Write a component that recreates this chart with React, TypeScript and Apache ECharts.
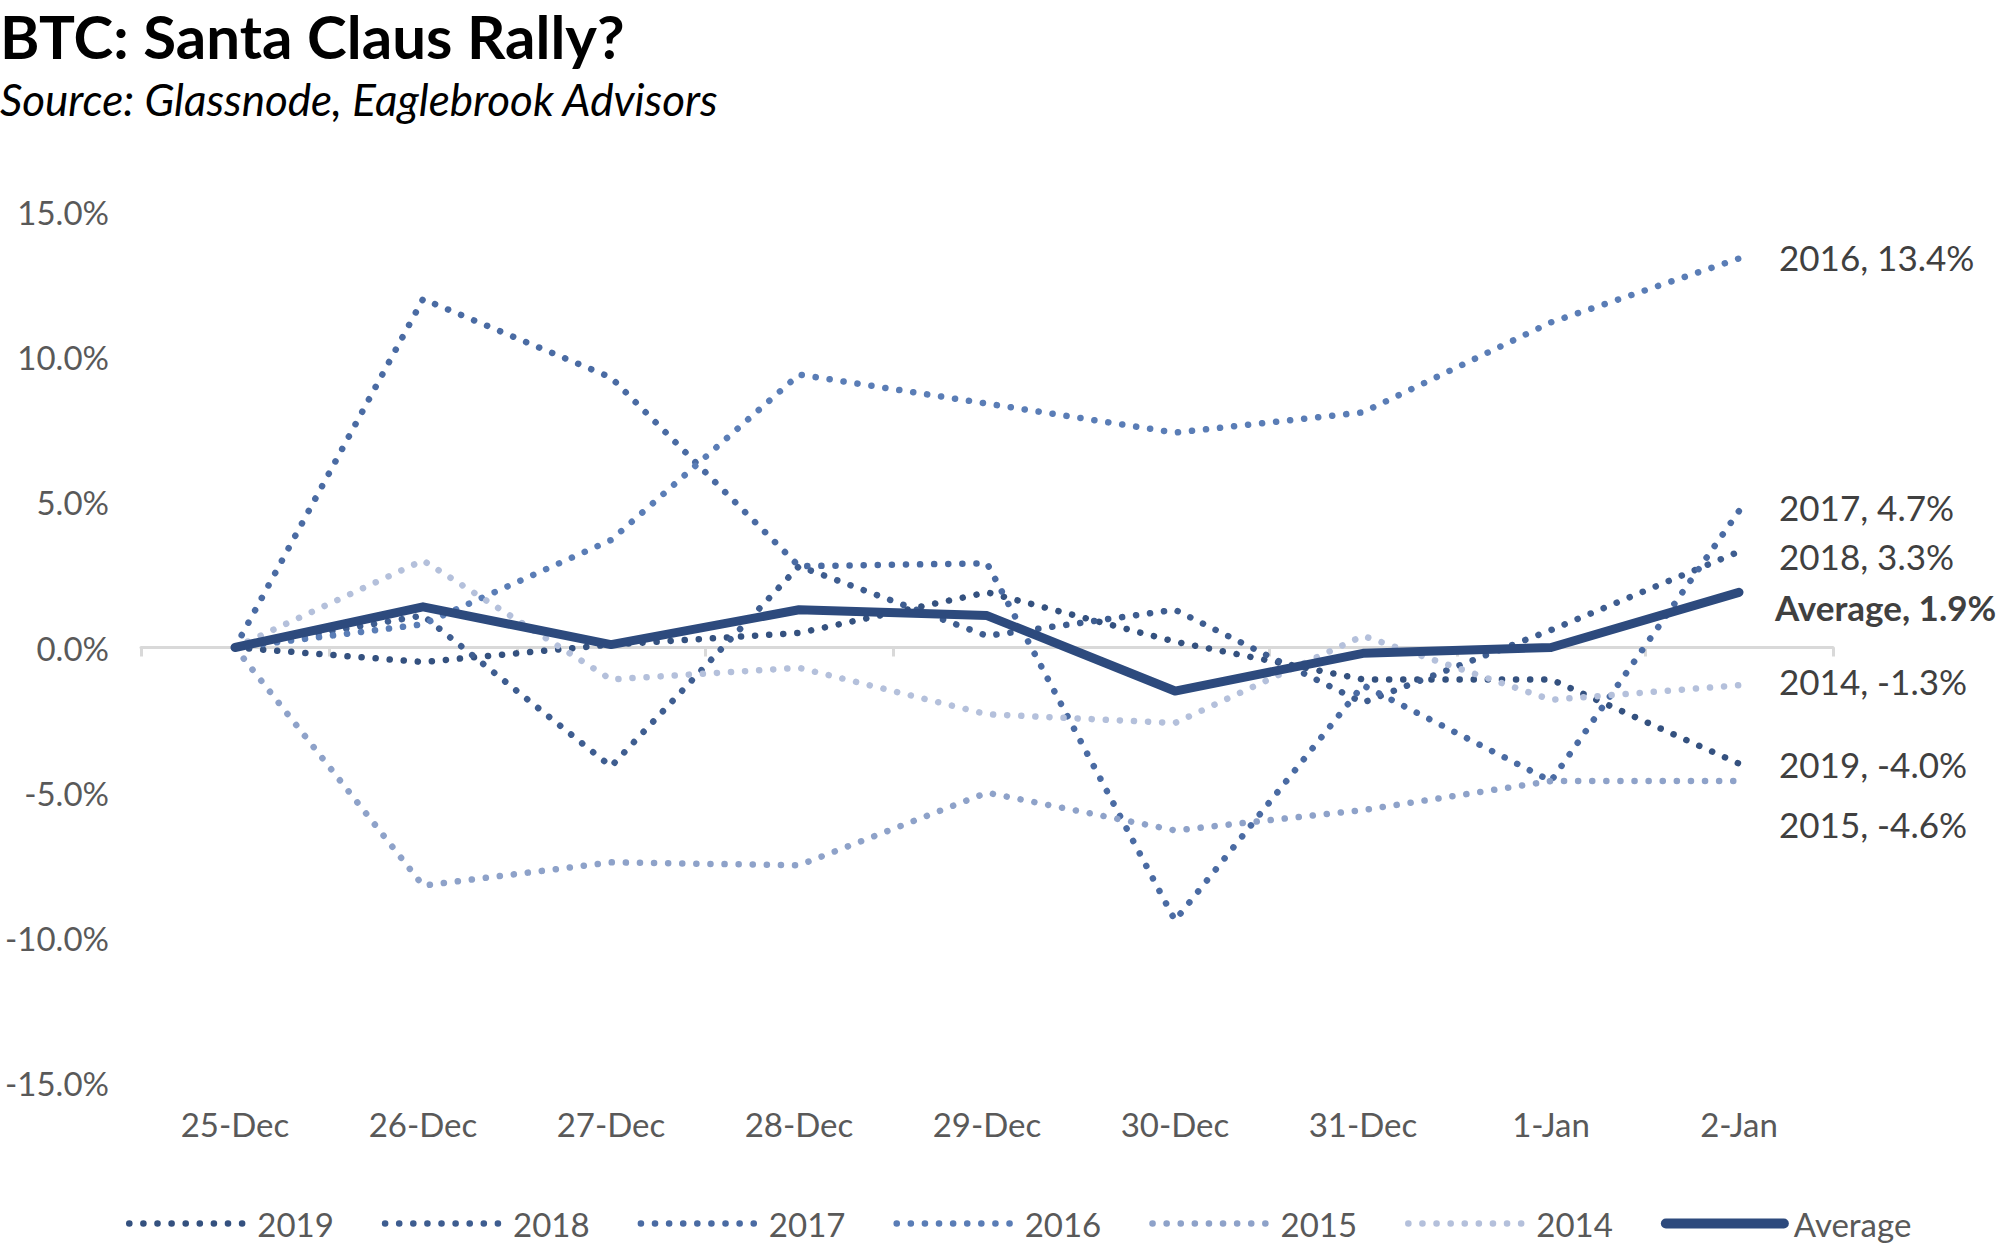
import React, { useEffect, useRef } from 'react';
import * as echarts from 'echarts';

// ---- Data (percent change vs 25-Dec) ----
const categories = ['25-Dec', '26-Dec', '27-Dec', '28-Dec', '29-Dec', '30-Dec', '31-Dec', '1-Jan', '2-Jan'];
const seriesNames = ['2019', '2018', '2017', '2016', '2015', '2014', 'Average'];
const values2019 = [0, -0.5, 0.1, 0.5, 1.9, 0.2, -1.1, -1.1, -4.0];
const values2018 = [0, 1.1, -4.1, 2.8, 0.4, 1.3, -1.9, 0.6, 3.3];
const values2017 = [0, 12.0, 9.3, 2.8, 2.9, -9.4, -1.3, -4.6, 4.7];
const values2016 = [0, 0.8, 3.7, 9.4, 8.4, 7.4, 8.1, 11.2, 13.4];
const values2015 = [0, -8.2, -7.4, -7.5, -5.0, -6.3, -5.6, -4.6, -4.6];
const values2014 = [0, 3.0, -1.1, -0.7, -2.3, -2.6, 0.4, -1.8, -1.3];
const valuesAverage = [0, 1.4, 0.1, 1.3, 1.1, -1.5, -0.2, 0.0, 1.9];
const yMin = -15;
const yMax = 15;
const yStep = 5;

const allValues = [values2019, values2018, values2017, values2016, values2015, values2014, valuesAverage];

// ---- Styles ----
const FONT = 'Lato, "Open Sans", sans-serif';
const colors = ['#34517f', '#3e5d90', '#4a6ba3', '#5a7db6', '#8ea2c9', '#b4c0db', '#2d4a7d'];
const endLabelDy = [0, 4, -4, -1, 43, -4, 15];

function fmt(v: number) {
  return v.toFixed(1) + '%';
}

export default function App() {
  const ref = useRef<HTMLDivElement>(null);

  useEffect(() => {
    document.body.style.margin = '0';
    const chart = echarts.init(ref.current!, undefined, { renderer: 'svg' });

    const series = seriesNames.map((name, i) => {
      const isAvg = name === 'Average';
      return {
        name,
        type: 'line',
        data: allValues[i],
        symbol: 'none',
        showSymbol: false,
        z: isAvg ? 10 : 2 + i,
        lineStyle: {
          color: colors[i],
          width: isAvg ? 9 : 6.5,
          type: isAvg ? 'solid' : [0.1, 14],
          cap: 'round',
          join: 'round',
        },
        itemStyle: { color: colors[i] },
        endLabel: {
          show: true,
          distance: isAvg ? 36 : 40,
          offset: [0, endLabelDy[i]],
          formatter: (p: any) => `${name}, ${fmt(p.value)}`,
          color: '#404040',
          fontFamily: FONT,
          fontSize: 35,
          fontWeight: isAvg ? 'bold' : 'normal',
        },
      };
    });

    chart.setOption({
      animation: false,
      backgroundColor: '#ffffff',
      graphic: [
        {
          type: 'text',
          x: 0,
          y: 36,
          style: {
            text: 'BTC: Santa Claus Rally?',
            fill: '#000',
            font: `bold 60px ${FONT}`,
            verticalAlign: 'middle',
          },
        },
        {
          type: 'text',
          x: 0,
          y: 99,
          style: {
            text: 'Source: Glassnode, Eaglebrook Advisors',
            fill: '#000',
            font: `italic 44px ${FONT}`,
            verticalAlign: 'middle',
          },
        },
      ],
      grid: { left: 141, right: 171, top: 212, bottom: 169, containLabel: false },
      xAxis: [
        {
          type: 'category',
          data: categories,
          boundaryGap: true,
          position: 'bottom',
          axisLine: { show: false, onZero: false },
          axisTick: { show: false },
          splitLine: { show: false },
          axisLabel: { color: '#595959', fontFamily: FONT, fontSize: 33, margin: 24 },
        },
        {
          type: 'category',
          data: categories,
          boundaryGap: true,
          position: 'bottom',
          axisLine: { show: true, onZero: true, lineStyle: { color: '#d9d9d9', width: 3 } },
          axisTick: { show: true, length: 9, lineStyle: { color: '#d9d9d9', width: 3 } },
          axisLabel: { show: false },
          splitLine: { show: false },
        },
      ],
      yAxis: {
        type: 'value',
        min: yMin,
        max: yMax,
        interval: yStep,
        axisLine: { show: false },
        axisTick: { show: false },
        splitLine: { show: false },
        axisLabel: {
          color: '#595959',
          fontFamily: FONT,
          fontSize: 33,
          margin: 32,
          formatter: (v: number) => fmt(v),
        },
      },
      legend: {
        left: 121,
        top: 1202,
        itemWidth: 118,
        itemHeight: 14,
        itemGap: 48,
        data: seriesNames.map((n) => (n === 'Average' ? { name: n, lineStyle: { width: 10 } } : { name: n })),
        lineStyle: { width: 6.5 },
        itemStyle: { opacity: 0 },
        textStyle: { color: '#595959', fontFamily: FONT, fontSize: 33, padding: [0, 0, 0, 5] },
      },
      series,
    });

    return () => chart.dispose();
  }, []);

  return <div ref={ref} style={{ width: 2004, height: 1252 }} />;
}
